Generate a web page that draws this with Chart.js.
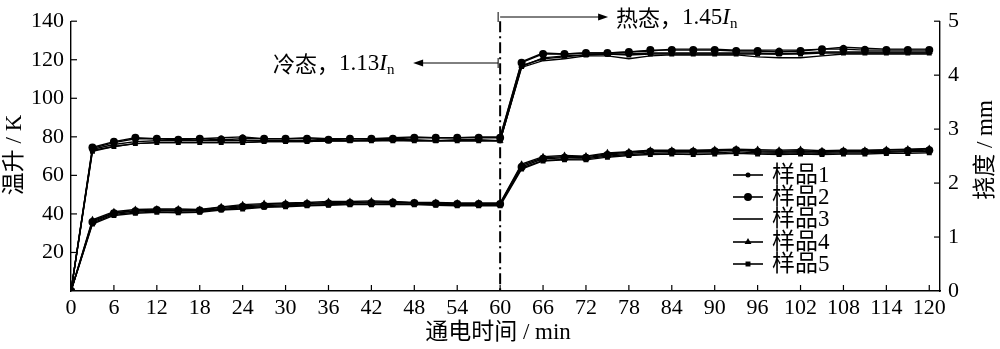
<!DOCTYPE html>
<html lang="zh">
<head>
<meta charset="utf-8">
<title>温升与挠度</title>
<script src="https://cdn.jsdelivr.net/npm/chart.js@4.4.1/dist/chart.umd.min.js"></script>
<style>
  html, body { margin: 0; padding: 0; background: #fff; }
  #wrap { width: 1000px; height: 349px; }
</style>
</head>
<body>
<div id="wrap"><canvas id="chart" width="1000" height="349"></canvas></div>
<script>
// time axis, min (every 3 min)
const times = [0,3,6,9,12,15,18,21,24,27,30,33,36,39,42,45,48,51,54,57,60,
  63,66,69,72,75,78,81,84,87,90,93,96,99,102,105,108,111,114,117,120];

const names = ['样品1', '样品2', '样品3', '样品4', '样品5'];

// temperature rise, K (left axis)
const temp1 = [0,74,77,79,79,79,79,79.5,80,79,79,79.5,79,79,79,79.5,80,79.5,79.5,80,80,
  119,123.5,123,123.5,123.5,124,124.5,125.5,125.5,125.5,125,125,125,125,125.5,126.5,126,125.5,125.5,125.5];
const temp2 = [0,74.5,77.5,79.5,79,78.5,79,78.5,79,79,79,79,78.5,79,79,79,79.5,79.5,79.5,79.5,79.5,
  118.5,123,123,123.5,123.5,124,125,125,125,125,124.5,124.5,124,124.5,125.5,125.5,125,125,125,125];
const temp3 = [0,73,75,76.5,77,77,77,77,77,77.5,77.5,77.5,78,78,78,78.5,78,78,78,78,78,
  116,119.5,120.5,122,122,120.5,122,122.5,122.5,122.5,122.5,121.5,121,121,122,123,123,123,123,123];
const temp4 = [0,73.5,76,77.5,78,78,78,78,78,78,78,78,78,78,78.5,78.5,78.5,78,78.5,78.5,78,
  117,120.5,121.5,122.5,123,123,123.5,123.5,123.5,123.5,123.5,123.5,123,123.5,124,124,124,124,124,124];
const temp5 = [0,72.5,75,76.5,77,77,77,77,77,77.5,77.5,77.5,78,78,78,78,78,78,78,78,78,
  116.5,121,122,122.5,123,122.5,123,123,123,123,123,123,123,123,123.5,123.5,123.5,123.5,123.5,123.5];

// deflection, mm (right axis)
const defl1 = [0,1.30,1.45,1.49,1.50,1.50,1.50,1.55,1.58,1.60,1.62,1.62,1.64,1.64,1.65,1.65,1.63,1.63,1.62,1.62,1.62,
  2.33,2.47,2.49,2.49,2.54,2.57,2.60,2.60,2.60,2.60,2.62,2.60,2.59,2.60,2.58,2.60,2.60,2.61,2.62,2.63];
const defl2 = [0,1.28,1.44,1.48,1.50,1.49,1.49,1.53,1.56,1.58,1.60,1.61,1.62,1.63,1.63,1.64,1.63,1.62,1.61,1.61,1.61,
  2.30,2.45,2.47,2.47,2.52,2.55,2.58,2.58,2.58,2.59,2.61,2.58,2.57,2.58,2.57,2.58,2.58,2.59,2.60,2.61];
const defl3 = [0,1.26,1.42,1.46,1.48,1.48,1.48,1.51,1.54,1.56,1.58,1.59,1.60,1.61,1.61,1.62,1.61,1.60,1.60,1.60,1.60,
  2.28,2.42,2.44,2.45,2.50,2.53,2.55,2.56,2.56,2.56,2.58,2.56,2.55,2.56,2.55,2.56,2.56,2.57,2.58,2.58];
const defl4 = [0,1.32,1.47,1.51,1.52,1.52,1.51,1.56,1.60,1.62,1.63,1.64,1.66,1.66,1.67,1.66,1.64,1.64,1.63,1.63,1.63,
  2.35,2.49,2.51,2.50,2.56,2.58,2.61,2.61,2.61,2.62,2.63,2.62,2.61,2.62,2.60,2.61,2.61,2.62,2.63,2.64];
const defl5 = [0,1.24,1.40,1.44,1.46,1.45,1.46,1.50,1.52,1.55,1.56,1.58,1.59,1.60,1.60,1.60,1.60,1.59,1.58,1.58,1.58,
  2.26,2.41,2.43,2.43,2.48,2.51,2.53,2.54,2.53,2.54,2.55,2.54,2.53,2.54,2.53,2.54,2.54,2.55,2.55,2.56];

const xTicks = [0,6,12,18,24,30,36,42,48,54,60,66,72,78,84,90,96,102,108,114,120];
const leftTicks = [0,20,40,60,80,100,120,140];
const rightTicks = [0,1,2,3,4,5];
const switchTime = 60;

const SERIF = '"Liberation Serif", "Noto Sans CJK SC", serif';
const CJK = '"Noto Sans CJK SC", "Liberation Serif", sans-serif';

// marker per sample
const markers = [
  { style: 'circle', r: 2.5 },
  { style: 'circle', r: 4 },
  { style: 'circle', r: 0 },
  { style: 'triangle', r: 4 },
  { style: 'rect', r: 3.5 }
];

const temps = [temp1, temp2, temp3, temp4, temp5];
const defls = [defl1, defl2, defl3, defl4, defl5];
const pairs = arr => arr.map((v, i) => ({ x: times[i], y: v }));

const datasets = [];
names.forEach((n, i) => {
  const m = markers[i];
  const common = {
    borderColor: '#000', backgroundColor: '#000', borderWidth: 1.4,
    pointStyle: m.style, pointRadius: m.r, pointHoverRadius: m.r,
    pointBorderWidth: 0, tension: 0
  };
  datasets.push(Object.assign({ label: n, data: pairs(temps[i]), yAxisID: 'y' }, common));
  datasets.push(Object.assign({ label: n + ' 挠度', data: pairs(defls[i]), yAxisID: 'y1' }, common));
});

function line(ctx, x1, y1, x2, y2) {
  ctx.beginPath(); ctx.moveTo(x1, y1); ctx.lineTo(x2, y2); ctx.stroke();
}

function arrowHead(ctx, x, y, dir) {
  ctx.beginPath();
  ctx.moveTo(x, y);
  ctx.lineTo(x - dir * 10, y - 3.5);
  ctx.lineTo(x - dir * 10, y + 3.5);
  ctx.closePath();
  ctx.fill();
}

// "热态，1.45In" style label
function stateLabel(ctx, x, y, cn, num) {
  ctx.textBaseline = 'middle';
  ctx.textAlign = 'left';
  ctx.font = '22px ' + CJK;
  ctx.fillText(cn, x, y);
  x += ctx.measureText(cn).width;
  ctx.font = '23px ' + SERIF;
  ctx.fillText(num, x, y);
  x += ctx.measureText(num).width;
  ctx.font = 'italic 23px ' + SERIF;
  ctx.fillText('I', x, y);
  x += ctx.measureText('I').width;
  ctx.font = '15px ' + SERIF;
  ctx.fillText('n', x, y + 6);
}

const deco = {
  id: 'deco',
  beforeDatasetsDraw(chart) {
    const ctx = chart.ctx, a = chart.chartArea;
    const px = chart.scales.x.getPixelForValue(switchTime);
    ctx.save();
    ctx.strokeStyle = '#000';
    ctx.lineWidth = 2;
    ctx.setLineDash([11, 4, 2, 4]);
    line(ctx, px, a.top, px, a.bottom);
    ctx.restore();
  },
  afterDraw(chart) {
    const ctx = chart.ctx, a = chart.chartArea;
    const sx = chart.scales.x, sy = chart.scales.y, sy1 = chart.scales.y1;
    ctx.save();
    ctx.strokeStyle = '#000';
    ctx.fillStyle = '#000';
    ctx.lineWidth = 1.2;

    // inward tick marks
    xTicks.forEach(v => { if (v > 0) { const p = sx.getPixelForValue(v); line(ctx, p, a.bottom, p, a.bottom - 6); } });
    leftTicks.forEach(v => { if (v > 0) { const p = sy.getPixelForValue(v); line(ctx, a.left, p, a.left + 6, p); } });
    rightTicks.forEach(v => { if (v > 0) { const p = sy1.getPixelForValue(v); line(ctx, a.right, p, a.right - 6, p); } });

    // state annotations
    const px = sx.getPixelForValue(switchTime);
    ctx.lineWidth = 1;
    line(ctx, px, 17, px + 105, 17);
    line(ctx, px - 2, 12, px - 2, 22);
    arrowHead(ctx, px + 108, 17, 1);
    stateLabel(ctx, 616, 18, '热态，', '1.45');

    line(ctx, px - 2, 63, px - 84, 63);
    line(ctx, px - 2, 58, px - 2, 68);
    arrowHead(ctx, px - 87, 63, -1);
    stateLabel(ctx, 273, 64, '冷态，', '1.13');

    // axis titles
    ctx.textAlign = 'center';
    ctx.textBaseline = 'middle';
    ctx.font = '23px ' + SERIF;
    ctx.fillText('通电时间 / min', 498, 333);
    ctx.save();
    ctx.translate(15, 155);
    ctx.rotate(-Math.PI / 2);
    ctx.fillText('温升 / K', 0, 0);
    ctx.restore();
    ctx.save();
    ctx.translate(986, 150);
    ctx.rotate(-Math.PI / 2);
    ctx.fillText('挠度 / mm', 0, 0);
    ctx.restore();

    // legend
    const lx = 733, tx = 772, rows = [175, 197, 219, 242, 264];
    names.forEach((n, i) => {
      const y = rows[i], m = markers[i];
      ctx.lineWidth = 1.6;
      line(ctx, lx, y, lx + 30, y);
      if (m.r > 0) Chart.helpers.drawPoint(ctx, { pointStyle: m.style, radius: m.r, borderWidth: 0 }, lx + 15, y);
      ctx.textAlign = 'left';
      ctx.font = '23px ' + SERIF;
      ctx.fillText(n, tx, y + 1);
    });
    ctx.restore();
  }
};

const tickFont = { family: SERIF, size: 22 };

new Chart(document.getElementById('chart'), {
  type: 'line',
  data: { datasets },
  plugins: [deco],
  options: {
    responsive: false,
    animation: false,
    devicePixelRatio: 1,
    layout: { padding: { top: 12, right: 0, left: 0, bottom: 0 } },
    plugins: { legend: { display: false }, tooltip: { enabled: false } },
    scales: {
      x: {
        type: 'linear', min: 0, max: 121.5,
        afterFit: s => { s.height = 58; },
        afterBuildTicks: s => { s.ticks = xTicks.map(v => ({ value: v })); },
        grid: { display: false, drawTicks: false },
        border: { display: true, color: '#000', width: 1.4 },
        ticks: { color: '#000', font: tickFont, padding: 4, maxRotation: 0, autoSkip: false }
      },
      y: {
        position: 'left', min: 0, max: 140,
        afterFit: s => { s.width = 71; },
        afterBuildTicks: s => { s.ticks = leftTicks.map(v => ({ value: v })); },
        grid: { display: false, drawTicks: false },
        border: { display: true, color: '#000', width: 1.4 },
        ticks: { color: '#000', font: tickFont, padding: 7, callback: v => v === 0 ? '' : v }
      },
      y1: {
        position: 'right', min: 0, max: 5,
        afterFit: s => { s.width = 60; },
        afterBuildTicks: s => { s.ticks = rightTicks.map(v => ({ value: v })); },
        grid: { display: false, drawTicks: false },
        border: { display: true, color: '#000', width: 1.4 },
        ticks: { color: '#000', font: tickFont, padding: 8 }
      }
    }
  }
});
</script>
</body>
</html>
